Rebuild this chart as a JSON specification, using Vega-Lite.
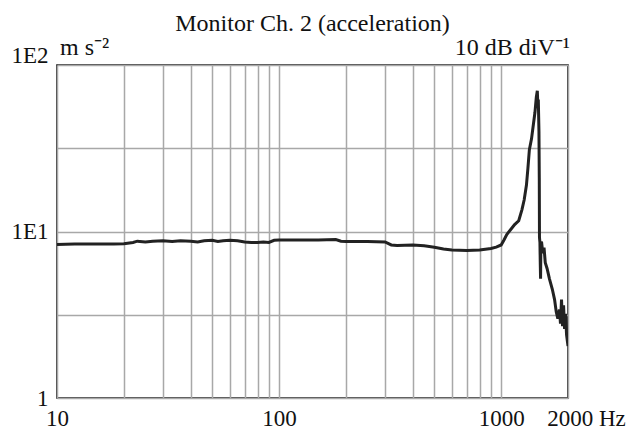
{
  "$schema": "https://vega.github.io/schema/vega-lite/v6.json",
  "width": 511,
  "height": 333,
  "autosize": "none",
  "padding": {"left": 57, "top": 65, "right": 63, "bottom": 32},
  "background": "#ffffff",
  "title": {"text": "Monitor Ch. 2 (acceleration)", "font": "Liberation Serif", "fontSize": 24, "fontWeight": "normal", "color": "#111", "offset": 0, "frame": "group"},
  "config": {
    "view": {"stroke": "#111", "strokeWidth": 1.6},
    "axis": {"labelFont": "Liberation Serif", "labelFontSize": 23, "labelColor": "#111", "domain": false, "ticks": false, "gridColor": "#a8a8a8", "gridWidth": 1.5, "gridOpacity": 1, "title": null}
  },
  "datasets": {
    "curve": [
      {"f": 10, "a": 8.35}, {"f": 12, "a": 8.4}, {"f": 15, "a": 8.4}, {"f": 18, "a": 8.4}, {"f": 20, "a": 8.45},
      {"f": 22, "a": 8.6}, {"f": 23, "a": 8.75}, {"f": 25, "a": 8.65}, {"f": 27, "a": 8.75}, {"f": 30, "a": 8.8},
      {"f": 33, "a": 8.7}, {"f": 36, "a": 8.8}, {"f": 40, "a": 8.75}, {"f": 43, "a": 8.65}, {"f": 46, "a": 8.8},
      {"f": 50, "a": 8.85}, {"f": 53, "a": 8.7}, {"f": 56, "a": 8.8}, {"f": 60, "a": 8.85}, {"f": 65, "a": 8.8},
      {"f": 70, "a": 8.65}, {"f": 75, "a": 8.6}, {"f": 80, "a": 8.6}, {"f": 85, "a": 8.65}, {"f": 90, "a": 8.6},
      {"f": 95, "a": 8.85}, {"f": 100, "a": 8.9}, {"f": 110, "a": 8.9}, {"f": 130, "a": 8.9}, {"f": 150, "a": 8.9},
      {"f": 180, "a": 8.95}, {"f": 190, "a": 8.75}, {"f": 200, "a": 8.7}, {"f": 250, "a": 8.7}, {"f": 300, "a": 8.65},
      {"f": 320, "a": 8.3}, {"f": 340, "a": 8.25}, {"f": 400, "a": 8.3}, {"f": 450, "a": 8.2}, {"f": 500, "a": 8.05},
      {"f": 550, "a": 7.85}, {"f": 600, "a": 7.75}, {"f": 700, "a": 7.7}, {"f": 800, "a": 7.75}, {"f": 900, "a": 7.9},
      {"f": 950, "a": 8.05}, {"f": 1000, "a": 8.3}, {"f": 1030, "a": 8.9}, {"f": 1060, "a": 9.6}, {"f": 1100, "a": 10.2},
      {"f": 1150, "a": 11}, {"f": 1200, "a": 11.6}, {"f": 1240, "a": 13.5}, {"f": 1270, "a": 15.5}, {"f": 1300, "a": 19},
      {"f": 1320, "a": 24}, {"f": 1340, "a": 31}, {"f": 1370, "a": 36}, {"f": 1400, "a": 45}, {"f": 1420, "a": 52},
      {"f": 1440, "a": 64}, {"f": 1455, "a": 70}, {"f": 1465, "a": 55}, {"f": 1470, "a": 62}, {"f": 1480, "a": 40},
      {"f": 1485, "a": 21}, {"f": 1488, "a": 9.2}, {"f": 1495, "a": 8.6}, {"f": 1500, "a": 6.5}, {"f": 1505, "a": 5.2},
      {"f": 1510, "a": 8.5}, {"f": 1520, "a": 8.7}, {"f": 1540, "a": 7.4}, {"f": 1560, "a": 8.0}, {"f": 1580, "a": 6.5},
      {"f": 1610, "a": 6.0}, {"f": 1650, "a": 5.2}, {"f": 1700, "a": 4.5}, {"f": 1740, "a": 3.9}, {"f": 1770, "a": 3.3},
      {"f": 1800, "a": 3.0}, {"f": 1830, "a": 3.4}, {"f": 1850, "a": 2.8}, {"f": 1870, "a": 3.9}, {"f": 1890, "a": 2.7},
      {"f": 1910, "a": 3.6}, {"f": 1930, "a": 2.6}, {"f": 1950, "a": 3.2}, {"f": 1970, "a": 2.4}, {"f": 2000, "a": 2.05}
    ],
    "notes": [
      {"f": 10, "a": 100, "t": "m s⁻²", "al": "left"},
      {"f": 2000, "a": 100, "t": "10 dB diV⁻¹", "al": "right"}
    ]
  },
  "layer": [
    {
      "data": {"name": "curve"},
      "mark": {"type": "line", "color": "#222", "strokeWidth": 3, "clip": true},
      "encoding": {
        "x": {"field": "f", "type": "quantitative", "scale": {"type": "log", "domain": [10, 2000], "nice": false},
          "axis": {"values": [10, 20, 30, 40, 50, 60, 70, 80, 90, 100, 200, 300, 400, 500, 600, 700, 800, 900, 1000, 2000],
            "labelExpr": "datum.value == 10 ? '10' : datum.value == 100 ? '100' : datum.value == 1000 ? '1000' : datum.value == 2000 ? '2000 Hz' : ''",
            "labelPadding": 9, "labelFlush": false, "labelBound": false, "labelOverlap": false,
            "labelOffset": {"condition": {"test": "datum.value == 2000", "value": 18}, "value": 0}}},
        "y": {"field": "a", "type": "quantitative", "scale": {"type": "log", "domain": [1, 100], "nice": false},
          "axis": {"values": [1, 3.1623, 10, 31.623, 100],
            "labelExpr": "datum.value == 1 ? '1' : datum.value == 10 ? '1E1' : datum.value == 100 ? '1E2' : ''",
            "labelPadding": 9, "labelFlush": false, "labelBound": false, "labelOverlap": false,
            "labelBaseline": {"condition": {"test": "datum.value == 100", "value": "alphabetic"}, "value": "middle"},
            "labelOffset": {"condition": {"test": "datum.value == 100", "value": -3}, "value": 0}}}
      }
    },
    {
      "data": {"name": "notes"},
      "transform": [{"filter": "datum.al == 'left'"}],
      "mark": {"type": "text", "font": "Liberation Serif", "fontSize": 24, "color": "#111", "baseline": "alphabetic", "align": "left", "dy": -10, "dx": 3},
      "encoding": {
        "x": {"field": "f", "type": "quantitative"},
        "y": {"field": "a", "type": "quantitative"},
        "text": {"field": "t"}
      }
    },
    {
      "data": {"name": "notes"},
      "transform": [{"filter": "datum.al == 'right'"}],
      "mark": {"type": "text", "font": "Liberation Serif", "fontSize": 24, "color": "#111", "baseline": "alphabetic", "align": "right", "dy": -10, "dx": 2},
      "encoding": {
        "x": {"field": "f", "type": "quantitative"},
        "y": {"field": "a", "type": "quantitative"},
        "text": {"field": "t"}
      }
    }
  ]
}
